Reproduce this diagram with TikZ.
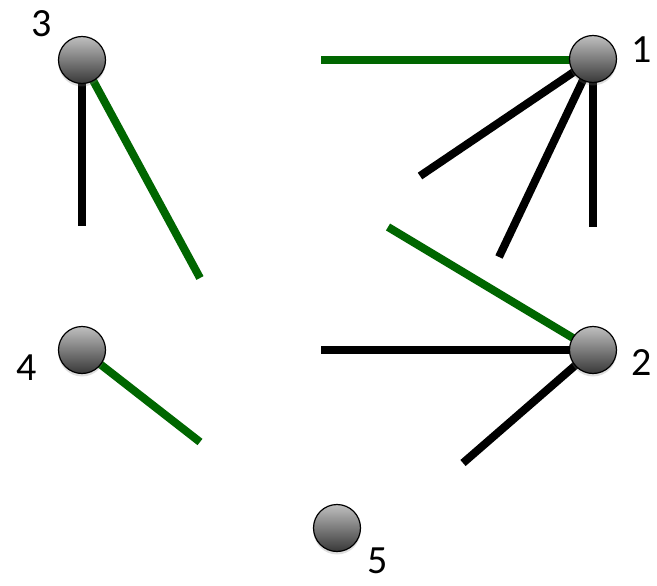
\documentclass[tikz,border=0pt]{standalone}
\usepackage{fontspec}
\setmainfont{Carlito}
\usetikzlibrary{shadows,backgrounds}
\definecolor{edgegreen}{RGB}{0,102,0}
\tikzset{
  ball/.style={circle, draw=black, line width=1.2pt, minimum size=47pt, inner sep=0pt,
    top color=black!25, bottom color=black!78, shading angle=0,
    drop shadow={shadow xshift=0pt, shadow yshift=-3pt, opacity=0.25}},
  lbl/.style={font=\fontsize{40}{40}\selectfont, inner sep=0pt},
  blk/.style={draw=black, line width=8pt, line cap=butt},
  grn/.style={draw=edgegreen, line width=8pt, line cap=butt},
}
\begin{document}
\begin{tikzpicture}[x=1pt,y=-1pt]
\useasboundingbox (0,0) rectangle (657,586);
% balls
\node[ball] (n3) at (82,60) {};
\node[ball] (n1) at (593,59) {};
\node[ball] (n4) at (82,350) {};
\node[ball] (n2) at (593,350) {};
\node[ball] (n5) at (337,528) {};
% labels
\node[lbl] (l3) at (42,24) {3};
\node[lbl] (l1) at (642,50) {1};
\node[lbl] (l4) at (27,368) {4};
\node[lbl] (l2) at (642,363) {2};
\node[lbl] (l5) at (378,561) {5};
% free ends
\coordinate (a1) at (321,60);
\coordinate (a2) at (420,176);
\coordinate (a3) at (499,257);
\coordinate (a4) at (593,227);
\coordinate (b1) at (82,226);
\coordinate (b2) at (200,278);
\coordinate (c1) at (388,227);
\coordinate (c2) at (321,350);
\coordinate (c3) at (463,463);
\coordinate (d1) at (200,442);
\begin{scope}[on background layer]
\draw[grn] (a1) -- (n1.center |- a1);
\draw[blk] (n1.center) -- (a2);
\draw[blk] (n1.center) -- (a3);
\draw[blk] (n1.center) -- (a4);
\draw[blk] (n3.center) -- (b1);
\draw[grn] (n3.center) -- (b2);
\draw[grn] (c1) -- (n2.center);
\draw[blk] (c2) -- (n2.center);
\draw[blk] (n2.center) -- (c3);
\draw[grn] (n4.center) -- (d1);
\end{scope}
\end{tikzpicture}
\end{document}
